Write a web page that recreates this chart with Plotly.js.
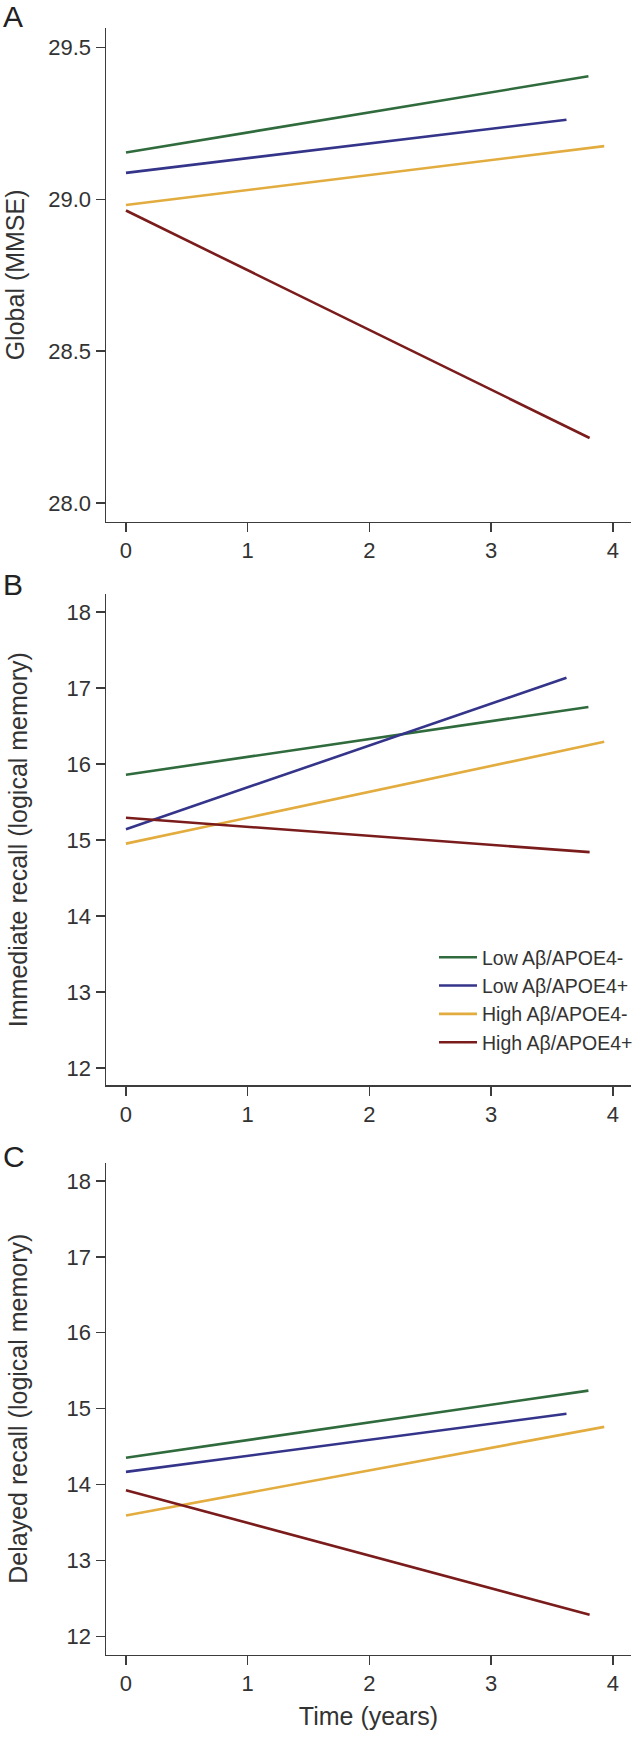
<!DOCTYPE html>
<html>
<head>
<meta charset="utf-8">
<script src="https://cdn.plot.ly/plotly-3.0.1.min.js"></script>
<style>
  html, body { margin: 0; padding: 0; background: #ffffff; }
  #chart { width: 642px; height: 1738px; }
</style>
</head>
<body>
<div id="chart"></div>
<script>
// ---- Data ----
const groups = ['Low A\u03b2/APOE4-', 'Low A\u03b2/APOE4+', 'High A\u03b2/APOE4-', 'High A\u03b2/APOE4+'];
const groupColors = ['#2f6b3c', '#34348a', '#e2ac3f', '#7b1c1c'];
// follow-up time (years) at start and end of each fitted line
const years = [[0, 3.80], [0, 3.62], [0, 3.93], [0, 3.81]];
// Panel A: Global (MMSE)
const mmse = [[29.154, 29.405], [29.087, 29.262], [28.981, 29.175], [28.963, 28.214]];
// Panel B: Immediate recall (logical memory)
const immediateRecall = [[15.857, 16.749], [15.140, 17.133], [14.950, 16.290], [15.290, 14.838]];
// Panel C: Delayed recall (logical memory)
const delayedRecall = [[14.353, 15.238], [14.167, 14.932], [13.594, 14.760], [13.926, 12.286]];

const xTicks = [0, 1, 2, 3, 4];
const mmseTicks = [28.0, 28.5, 29.0, 29.5];
const recallTicks = [12, 13, 14, 15, 16, 17, 18];
const panelLetters = ['A', 'B', 'C'];
const yTitles = ['Global (MMSE)', 'Immediate recall (logical memory)', 'Delayed recall (logical memory)'];
const xTitle = 'Time (years)';

// ---- Build traces ----
const panels = [mmse, immediateRecall, delayedRecall];
const traces = [];
panels.forEach((panel, p) => {
  panel.forEach((vals, g) => {
    traces.push({
      type: 'scatter',
      mode: 'lines',
      x: years[g],
      y: vals,
      name: groups[g],
      line: { color: groupColors[g], width: 2.6 },
      showlegend: p === 1,
      xaxis: p === 0 ? 'x' : 'x' + (p + 1),
      yaxis: p === 0 ? 'y' : 'y' + (p + 1),
      hoverinfo: 'skip'
    });
  });
});

// ---- Layout ----
const H = 1738, W = 642;
const font = 'Liberation Sans, Arial, Helvetica, sans-serif';
const ink = '#333333';
const axisColor = '#3c3c3c';
function yd(topPx, botPx) { return [1 - botPx / H, 1 - topPx / H]; }
const xDomain = [106 / W, 631 / W];

function xAxis(anchor, withTitle) {
  const a = {
    domain: xDomain,
    anchor: anchor,
    range: [-0.164, 4.15],
    tickvals: xTicks,
    ticktext: xTicks.map(String),
    ticks: 'outside', ticklen: 9, tickwidth: 1.5, tickcolor: axisColor,
    showline: true, linecolor: axisColor, linewidth: 1.5, mirror: false,
    showgrid: false, zeroline: false,
    tickfont: { family: font, size: 22, color: ink },
    fixedrange: true
  };
  if (withTitle) {
    a.title = { text: xTitle, font: { family: font, size: 25, color: ink }, standoff: 12 };
  }
  return a;
}
function yAxis(anchor, domain, range, ticks, fmt, title, standoff) {
  return {
    domain: domain,
    anchor: anchor,
    range: range,
    tickvals: ticks,
    ticktext: ticks.map(v => fmt ? v.toFixed(1) : String(v)),
    ticks: 'outside', ticklen: 9, tickwidth: 1.5, tickcolor: axisColor,
    showline: true, linecolor: axisColor, linewidth: 1.5, mirror: false,
    showgrid: false, zeroline: false,
    tickfont: { family: font, size: 22, color: ink },
    title: { text: title, font: { family: font, size: 25, color: ink }, standoff: standoff },
    fixedrange: true
  };
}

const layout = {
  width: W, height: H,
  margin: { l: 0, r: 0, t: 0, b: 0, autoexpand: false },
  paper_bgcolor: '#ffffff', plot_bgcolor: '#ffffff',
  font: { family: font, color: ink },
  showlegend: true,
  legend: {
    x: 434 / W, xanchor: 'left',
    y: 1 - 938 / H, yanchor: 'top',
    bgcolor: 'rgba(0,0,0,0)',
    font: { family: font, size: 19.5, color: ink },
    itemwidth: 38,
    tracegroupgap: 0
  },
  xaxis: xAxis('y', false),
  yaxis: yAxis('x', yd(28.3, 521.5), [27.939, 29.563], mmseTicks, true, yTitles[0], 16),
  xaxis2: xAxis('y2', false),
  yaxis2: yAxis('x2', yd(594.1, 1085.2), [11.771, 18.234], recallTicks, false, yTitles[1], 32),
  xaxis3: xAxis('y3', true),
  yaxis3: yAxis('x3', yd(1162.9, 1654.5), [11.762, 18.237], recallTicks, false, yTitles[2], 32),
  annotations: panelLetters.map((t, i) => ({
    text: t, xref: 'paper', yref: 'paper',
    x: 1 / W, xanchor: 'left',
    y: 1 - [16, 585, 1156][i] / H, yanchor: 'middle',
    showarrow: false,
    font: { family: font, size: 30, color: '#222222' }
  }))
};

Plotly.newPlot('chart', traces, layout, { staticPlot: true, displayModeBar: false });
</script>
</body>
</html>
